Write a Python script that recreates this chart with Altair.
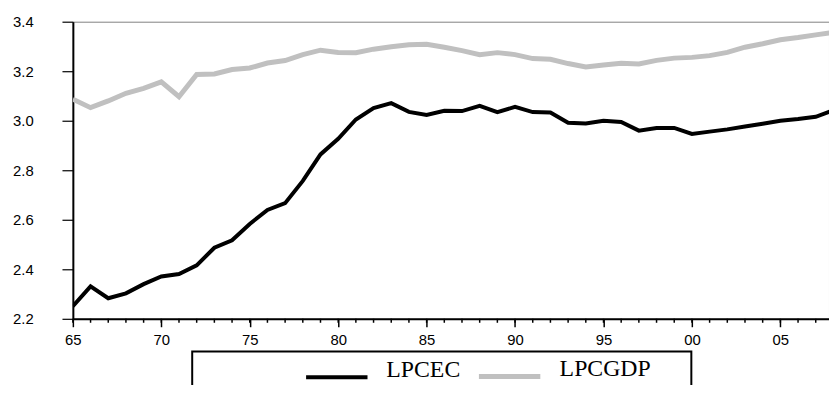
import altair as alt
import pandas as pd

years = list(range(1965, 2009))
lpcec = [2.251, 2.331, 2.283, 2.303, 2.340, 2.371, 2.381, 2.416, 2.487, 2.517,
         2.583, 2.640, 2.667, 2.757, 2.864, 2.927, 3.005, 3.051, 3.071, 3.036,
         3.023, 3.040, 3.039, 3.060, 3.035, 3.056, 3.035, 3.033, 2.992, 2.989,
         3.000, 2.995, 2.960, 2.971, 2.971, 2.947, 2.956, 2.965, 2.977, 2.988,
         3.000, 3.007, 3.016, 3.042]
lpcgdp = [3.087, 3.053, 3.080, 3.111, 3.131, 3.157, 3.097, 3.187, 3.189, 3.207,
          3.213, 3.233, 3.243, 3.267, 3.285, 3.276, 3.275, 3.289, 3.299, 3.307,
          3.309, 3.297, 3.283, 3.267, 3.275, 3.267, 3.251, 3.248, 3.231, 3.217,
          3.225, 3.232, 3.229, 3.244, 3.253, 3.256, 3.263, 3.276, 3.297, 3.311,
          3.327, 3.336, 3.347, 3.357]
series_names = ["LPCEC", "LPCGDP"]
series_colors = ["#000000", "#c0c0c0"]
major_years = [1965, 1970, 1975, 1980, 1985, 1990, 1995, 2000, 2005]
minor_years = list(range(1965, 2008))
y_ticks = [2.2, 2.4, 2.6, 2.8, 3.0, 3.2, 3.4]

df = pd.DataFrame({
    "year": years * 2,
    "value": lpcec + lpcgdp,
    "series": [series_names[0]] * len(years) + [series_names[1]] * len(years),
})
tick_df = pd.DataFrame({"year": minor_years})

x_scale = alt.Scale(domain=[1965, 2007.75], nice=False, zero=False)
y_scale = alt.Scale(domain=[2.2, 3.4], nice=False, zero=False)

x_axis = alt.Axis(
    values=major_years,
    labelExpr="pad(toString(datum.value % 100), 2, '0', 'left')",
    title=None, grid=False,
    domainColor="black", domainWidth=2,
    tickColor="black", tickWidth=1.5, tickSize=8,
    labelPadding=6, labelFont="Liberation Sans", labelFontSize=15,
    labelColor="black", labelFlush=False, labelOverlap=False,
)
y_axis = alt.Axis(
    values=y_ticks, format=".1f", title=None, grid=False,
    domainColor="black", domainWidth=2,
    tickColor="black", tickWidth=1.2, tickSize=11,
    labelPadding=29, labelFont="Liberation Sans", labelFontSize=15,
    labelColor="black", labelFlush=False, labelOverlap=False,
)

lines = alt.Chart(df).mark_line(clip=True).encode(
    x=alt.X("year:Q", scale=x_scale, axis=x_axis),
    y=alt.Y("value:Q", scale=y_scale, axis=y_axis),
    color=alt.Color(
        "series:N",
        scale=alt.Scale(domain=series_names, range=series_colors),
        legend=alt.Legend(
            orient="none", legendX=233.5, legendY=324.5,
            direction="horizontal", title=None,
            symbolType="stroke", symbolSize=3844, symbolStrokeWidth=5,
            labelFont="Liberation Serif", labelFontSize=24, labelColor="black",
            labelBaseline="alphabetic",
            labelOffset=17, columnPadding=8, padding=0,
        ),
    ),
    strokeWidth=alt.StrokeWidth(
        "series:N",
        scale=alt.Scale(domain=series_names, range=[4, 5]),
        legend=None,
    ),
    order=alt.Order("year:Q"),
)

minor = alt.Chart(tick_df).mark_rule(color="black", strokeWidth=1.5).encode(
    x=alt.X("year:Q", scale=x_scale, axis=x_axis),
    y=alt.value(300),
    y2=alt.value(304),
)

box = alt.Chart(pd.DataFrame({"k": [0]})).mark_rect(
    fillOpacity=0, stroke="black", strokeWidth=2
).encode(
    x=alt.value(120.5), x2=alt.value(624.5),
    y=alt.value(333), y2=alt.value(420),
)

chart = alt.layer(box, minor, lines).properties(
    width=763.5, height=300,
    padding={"left": 65.5, "top": 12, "right": 0, "bottom": 65},
    autosize=alt.AutoSizeParams(type="none"),
    background="white",
).configure_view(stroke="#808080", strokeWidth=1)

chart.save("out.html", embed_options={"renderer": "svg", "actions": False})
